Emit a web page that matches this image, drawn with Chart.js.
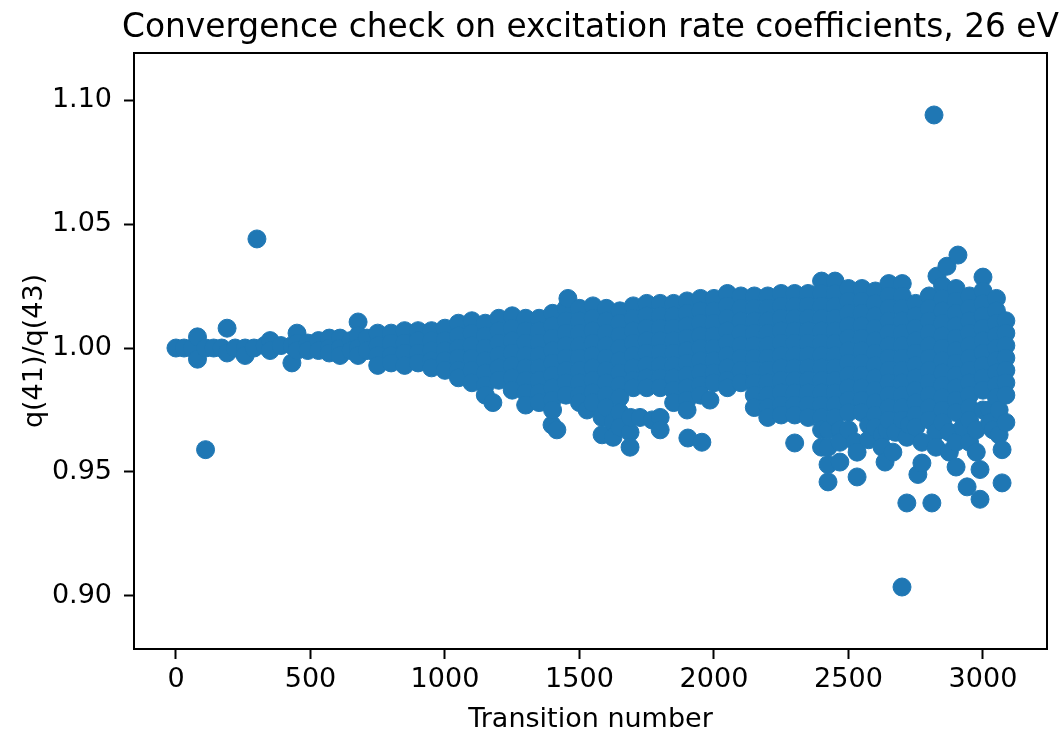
<!DOCTYPE html>
<html>
<head>
<meta charset="utf-8">
<script src="https://cdn.jsdelivr.net/npm/chart.js@4.4.0/dist/chart.umd.min.js"></script>
<style>
  html, body { margin: 0; padding: 0; background: #fff; }
</style>
</head>
<body>
<canvas id="chart" width="1063" height="733"></canvas>
<script>
const chartTitle = 'Convergence check on excitation rate coefficients, 26 eV';
const xTicks = [0, 500, 1000, 1500, 2000, 2500, 3000];
const yTicks = [0.90, 0.95, 1.00, 1.05, 1.10];

// isolated points far from the band
const outlierTransition = [110, 301, 2699, 2818];
const outlierRatio = [0.959, 1.044, 0.9036, 1.094];

const earlyBand = [
  [0, [1.000]],
  [30, [1.000]],
  [60, [1.000]],
  [80, [1.0045, 0.9955]],
  [110, [1.000]],
  [140, [1.000]],
  [170, [1.000]],
  [190, [1.008, 0.998]],
  [220, [1.000]],
  [257, [1.000, 0.997]],
  [290, [1.000]],
  [330, [1.001]],
  [350, [1.003, 0.999]],
  [390, [1.001]],
  [431, [1.001, 0.994]],
  [450, [1.006, 1.002, 0.999]],
  [490, [1.002, 0.999]],
  [530, [1.003, 0.999]],
  [570, [1.004, 1.000, 0.998]],
  [610, [1.004, 1.000, 0.997]],
  [650, [1.003, 0.999]],
  [677, [1.0105, 1.005, 1.000, 0.997]],
  [710, [1.004, 0.999]],
  [750, [1.006, 1.001, 0.997, 0.993]],
  [800, [1.006, 1.002, 0.997, 0.994]],
  [850, [1.007, 1.002, 0.998, 0.993]],
  [900, [1.007, 1.003, 0.998, 0.994]],
  [950, [1.007, 1.003, 0.999, 0.995, 0.992]],
  [1000, [1.008, 1.003, 0.999, 0.995, 0.991]]
];

const midBand = [
  [1050, [1.010, 1.005, 1.000, 0.996, 0.991, 0.988]],
  [1100, [1.011, 1.006, 1.001, 0.996, 0.991, 0.986]],
  [1150, [1.010, 1.005, 1.000, 0.995, 0.990, 0.985, 0.981]],
  [1178, [0.978]],
  [1200, [1.012, 1.007, 1.002, 0.997, 0.992, 0.987]],
  [1250, [1.013, 1.008, 1.003, 0.998, 0.993, 0.988, 0.983]],
  [1300, [1.012, 1.007, 1.002, 0.997, 0.992, 0.987, 0.982, 0.977]],
  [1350, [1.012, 1.007, 1.002, 0.997, 0.992, 0.987, 0.982, 0.978]],
  [1398, [0.969]],
  [1400, [1.014, 1.009, 1.004, 0.999, 0.994, 0.989, 0.984, 0.979, 0.975]],
  [1416, [0.967]],
  [1450, [1.016, 1.011, 1.006, 1.001, 0.996, 0.991, 0.986, 0.981]],
  [1457, [1.020]],
  [1500, [1.016, 1.011, 1.006, 1.001, 0.996, 0.991, 0.986, 0.981, 0.978]],
  [1528, [0.975]],
  [1550, [1.017, 1.012, 1.007, 1.002, 0.997, 0.992, 0.987, 0.982, 0.978]],
  [1584, [0.972, 0.965]],
  [1600, [1.016, 1.011, 1.006, 1.001, 0.996, 0.991, 0.986, 0.981, 0.976]],
  [1625, [0.970, 0.964]],
  [1650, [1.015, 1.010, 1.005, 1.000, 0.995, 0.990, 0.985, 0.980, 0.974, 0.968]],
  [1688, [0.966, 0.960]],
  [1690, [0.972]],
  [1700, [1.017, 1.012, 1.007, 1.002, 0.997, 0.992, 0.987, 0.984]],
  [1725, [0.972]],
  [1750, [1.018, 1.013, 1.008, 1.003, 0.998, 0.993, 0.988, 0.984]],
  [1770, [0.971]],
  [1800, [1.018, 1.013, 1.008, 1.003, 0.998, 0.993, 0.988, 0.984, 0.972, 0.967]],
  [1850, [1.018, 1.013, 1.008, 1.003, 0.998, 0.993, 0.988, 0.983, 0.978]],
  [1900, [1.019, 1.014, 1.009, 1.004, 0.999, 0.994, 0.989, 0.984, 0.979, 0.975]],
  [1903, [0.9637]],
  [1950, [1.020, 1.015, 1.010, 1.005, 1.000, 0.995, 0.990, 0.985, 0.981]],
  [1955, [0.962]],
  [1985, [0.979]],
  [2000, [1.020, 1.015, 1.010, 1.005, 1.000, 0.995, 0.990, 0.986]]
];

const lateBand = [
  [2050, [1.022, 1.017, 1.012, 1.007, 1.002, 0.997, 0.992, 0.987, 0.984]],
  [2100, [1.021, 1.016, 1.011, 1.006, 1.001, 0.996, 0.991, 0.986]],
  [2150, [1.021, 1.016, 1.011, 1.006, 1.001, 0.996, 0.991, 0.986, 0.981, 0.976]],
  [2200, [1.021, 1.016, 1.011, 1.006, 1.001, 0.996, 0.991, 0.986, 0.981, 0.976, 0.972]],
  [2250, [1.022, 1.017, 1.012, 1.007, 1.002, 0.997, 0.992, 0.987, 0.982, 0.977, 0.973]],
  [2300, [1.022, 1.017, 1.012, 1.007, 1.002, 0.997, 0.992, 0.987, 0.982, 0.977, 0.973, 0.9617]],
  [2350, [1.022, 1.017, 1.012, 1.007, 1.002, 0.997, 0.992, 0.987, 0.982, 0.977, 0.972]],
  [2400, [1.027, 1.022, 1.017, 1.012, 1.007, 1.002, 0.997, 0.992, 0.987, 0.982, 0.977, 0.972, 0.967, 0.960]],
  [2424, [0.967, 0.960, 0.953, 0.946]],
  [2450, [1.027, 1.022, 1.017, 1.012, 1.007, 1.002, 0.997, 0.992, 0.987, 0.982, 0.977, 0.972]],
  [2468, [0.967, 0.962, 0.954]],
  [2500, [1.024, 1.019, 1.014, 1.009, 1.004, 0.999, 0.994, 0.989, 0.984, 0.979, 0.974, 0.967]],
  [2525, [0.962]],
  [2532, [0.958, 0.948]],
  [2550, [1.024, 1.019, 1.014, 1.009, 1.004, 0.999, 0.994, 0.989, 0.984, 0.979, 0.974]],
  [2575, [0.969, 0.963]],
  [2600, [1.023, 1.018, 1.013, 1.008, 1.003, 0.998, 0.993, 0.988, 0.983, 0.978, 0.973, 0.968]],
  [2625, [0.965, 0.960]],
  [2636, [0.954]],
  [2643, [0.967]],
  [2650, [1.026, 1.021, 1.016, 1.011, 1.006, 1.001, 0.996, 0.991, 0.986, 0.981, 0.976, 0.971]],
  [2665, [0.958]],
  [2675, [0.966]],
  [2700, [1.026, 1.021, 1.016, 1.011, 1.006, 1.001, 0.996, 0.991, 0.986, 0.981, 0.976, 0.971]],
  [2717, [0.964, 0.9375]],
  [2725, [0.969]],
  [2750, [1.018, 1.013, 1.008, 1.003, 0.998, 0.993, 0.988, 0.983, 0.978, 0.973, 0.968]],
  [2758, [0.949]],
  [2773, [0.962, 0.9536]],
  [2800, [1.021, 1.016, 1.011, 1.006, 1.001, 0.996, 0.991, 0.986, 0.981, 0.976, 0.971]],
  [2810, [0.9375]],
  [2825, [0.966, 0.960]],
  [2829, [1.029]],
  [2850, [1.025, 1.020, 1.015, 1.010, 1.005, 1.000, 0.995, 0.990, 0.985, 0.980, 0.975, 0.970]],
  [2866, [1.033]],
  [2875, [0.966, 0.958]],
  [2900, [1.024, 1.019, 1.014, 1.009, 1.004, 0.999, 0.994, 0.989, 0.984, 0.979, 0.974, 0.962, 0.952]],
  [2907, [1.0375]],
  [2925, [0.968]],
  [2941, [0.944]],
  [2950, [1.021, 1.016, 1.011, 1.006, 1.001, 0.996, 0.991, 0.986, 0.981, 0.976, 0.971, 0.962]],
  [2975, [0.967, 0.958]],
  [2989, [0.951, 0.939]],
  [3000, [1.0286, 1.023, 1.018, 1.013, 1.008, 1.003, 0.998, 0.993, 0.988, 0.983, 0.975]],
  [3025, [0.975, 0.970]],
  [3037, [0.967]],
  [3050, [1.020, 1.015, 1.010, 1.005, 1.000, 0.995, 0.990, 0.985, 0.980]],
  [3060, [0.975, 0.965]],
  [3071, [0.959, 0.9456]],
  [3085, [1.011, 1.006, 1.001, 0.996, 0.991, 0.986, 0.981, 0.970]]
];

const points = [];
[earlyBand, midBand, lateBand].forEach(band => {
  band.forEach(([n, ratios]) => {
    ratios.forEach(r => points.push({ x: n, y: r }));
  });
});
outlierTransition.forEach((n, i) => points.push({ x: n, y: outlierRatio[i] }));

const font = { family: 'DejaVu Sans', size: 27, weight: 'normal' };

// box round the axes (like matplotlib spines) and the title centred on the axes;
// the built-in title squeezes text wider than the plot area
const frame = {
  id: 'frame',
  afterDraw(chart) {
    const { ctx, chartArea: a } = chart;
    ctx.save();
    ctx.strokeStyle = '#000';
    ctx.lineWidth = 2;
    ctx.strokeRect(a.left, a.top, a.right - a.left, a.bottom - a.top);
    ctx.fillStyle = '#000';
    ctx.font = '32.8px "DejaVu Sans"';
    ctx.textAlign = 'center';
    ctx.textBaseline = 'alphabetic';
    ctx.fillText(chartTitle, (a.left + a.right) / 2, a.top - 16);
    ctx.restore();
  }
};

new Chart(document.getElementById('chart'), {
  type: 'scatter',
  data: {
    datasets: [{
      data: points,
      backgroundColor: '#1f77b4',
      borderColor: '#1f77b4',
      borderWidth: 1,
      pointRadius: 9,
      pointHoverRadius: 9
    }]
  },
  options: {
    responsive: false,
    animation: false,
    devicePixelRatio: 1,
    events: [],
    layout: { padding: { left: 0, right: 16, top: 53, bottom: 0 } },
    plugins: {
      legend: { display: false },
      tooltip: { enabled: false },
      title: { display: false }
    },
    scales: {
      x: {
        type: 'linear',
        min: -156,
        max: 3238,
        afterBuildTicks: s => { s.ticks = xTicks.map(v => ({ value: v })); },
        afterFit: s => { s.height = 84; },
        grid: { drawOnChartArea: false, drawTicks: true, tickLength: 10, tickWidth: 2, tickColor: '#000' },
        border: { display: false },
        ticks: { color: '#000', font, padding: 5, maxRotation: 0, autoSkip: false, callback: v => String(v) },
        title: {
          display: true,
          text: 'Transition number',
          color: '#000',
          font: { ...font, lineHeight: 1 },
          padding: { top: 0, bottom: 0 }
        }
      },
      y: {
        type: 'linear',
        min: 0.8786,
        max: 1.119,
        afterBuildTicks: s => { s.ticks = yTicks.map(v => ({ value: v })); },
        afterFit: s => { s.width = 134; },
        grid: { drawOnChartArea: false, drawTicks: true, tickLength: 10, tickWidth: 2, tickColor: '#000' },
        border: { display: false },
        ticks: { color: '#000', font, padding: 12, callback: v => v.toFixed(2) },
        title: {
          display: true,
          text: 'q(41)/q(43)',
          color: '#000',
          font: { ...font, lineHeight: 1 },
          padding: { top: 21, bottom: 0 }
        }
      }
    }
  },
  plugins: [frame]
});
</script>
</body>
</html>
